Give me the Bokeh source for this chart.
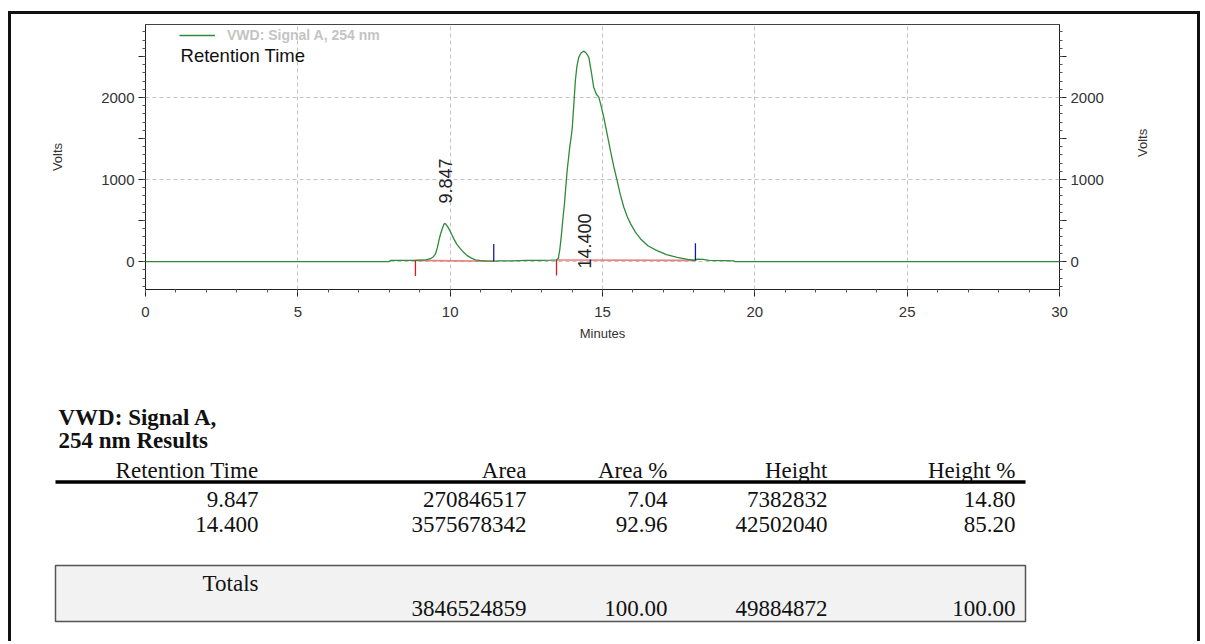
import math
from bokeh.plotting import figure
from bokeh.layouts import column
from bokeh.models import Range1d, FixedTicker, LinearAxis, Legend, LegendItem, Label
from bokeh.core.properties import value
from bokeh.embed import file_html
from bokeh.resources import INLINE

# ---------------- data ----------------
time_min = [0.0, 8.0, 8.05, 8.5, 8.86, 9.2, 9.35, 9.45, 9.52, 9.58, 9.63, 9.68, 9.74, 9.79, 9.82,
            9.86, 9.91, 9.96, 10.04, 10.12, 10.22, 10.34, 10.45, 10.56, 10.7, 10.83, 11.0, 11.2,
            11.43, 11.6, 12.0, 12.5, 13.0, 13.3, 13.49, 13.55, 13.6, 13.65, 13.7, 13.75, 13.84,
            13.92, 14.0, 14.06, 14.11, 14.16, 14.22, 14.3, 14.39, 14.47, 14.55, 14.63, 14.71, 14.8,
            14.88, 14.96, 15.04, 15.15, 15.26, 15.37, 15.48, 15.59, 15.7, 15.81, 15.92, 16.08,
            16.25, 16.5, 16.79, 17.1, 17.45, 17.8, 18.05, 18.1, 18.3, 18.5, 19.0, 19.3, 19.35, 30.0]
signal = [0, 0, 15, 15, 15, 22, 35, 60, 95, 170, 256, 330, 400, 450, 467,
          455, 430, 399, 340, 277, 210, 155, 110, 73, 42, 22, 12, 8,
          5, 8, 10, 14, 16, 18, 20, 40, 150, 320, 520, 700, 1110,
          1380, 1598, 1920, 2207, 2380, 2490, 2545, 2565, 2540, 2490, 2320, 2126, 2040,
          2004, 1890, 1760, 1560, 1354, 1160, 988, 810, 662, 550, 463, 360,
          276, 190, 134, 85, 52, 28, 15, 30, 28, 15, 12, 10, 0, 0]

peak_rt = [9.847, 14.400]
peak_start = [8.86, 13.49]
peak_start_level = [15, 20]
peak_end = [11.43, 18.05]
peak_end_level = [5, 15]

x_ticks = [0, 5, 10, 15, 20, 25, 30]
y_ticks = [0, 1000, 2000]

# results table
table_header = ["Retention Time", "Area", "Area %", "Height", "Height %"]
rt_values = [9.847, 14.400]
area_values = [270846517, 3575678342]
area_pct = [7.04, 92.96]
height_values = [7382832, 42502040]
height_pct = [14.80, 85.20]
total_area = 3846524859
total_area_pct = 100.00
total_height = 49884872
total_height_pct = 100.00

# ---------------- chart ----------------
SANS = "Liberation Sans"
SERIF = "Liberation Serif"

p = figure(width=1186, height=331, x_range=Range1d(0, 30), y_range=Range1d(-340, 2890),
           output_backend="svg", toolbar_location=None,
           min_border_left=134, min_border_right=138, min_border_top=10, min_border_bottom=56)
p.frame_align = False
p.outline_line_color = "#444444"
p.background_fill_color = "white"
p.border_fill_color = "white"

p.xgrid.ticker = FixedTicker(ticks=[t for t in x_ticks if 0 < t < 30])
p.ygrid.ticker = FixedTicker(ticks=y_ticks)
for g in (p.xgrid, p.ygrid):
    g.grid_line_color = "#c4c4c4"
    g.grid_line_dash = "4 3"
    g.grid_line_width = 1

y_major = [0, 500, 1000, 1500, 2000, 2500]
y_minor = list(range(-300, 2900, 100))
y_over = {500: "", 1500: "", 2500: ""}

p.xaxis.ticker = FixedTicker(ticks=x_ticks, minor_ticks=list(range(0, 31)))
p.xaxis.axis_label = "Minutes"
p.yaxis.ticker = FixedTicker(ticks=y_major, minor_ticks=y_minor)
p.yaxis.major_label_overrides = y_over
p.yaxis.axis_label = "Volts"

ra = LinearAxis(ticker=FixedTicker(ticks=y_major, minor_ticks=y_minor),
                major_label_overrides=y_over, axis_label="Volts",
                axis_label_orientation=math.pi / 2)
p.add_layout(ra, "right")

for ax in (p.xaxis[0], p.yaxis[0], ra):
    ax.axis_line_color = "#222222"
    ax.major_tick_line_color = "#222222"
    ax.minor_tick_line_color = "#555555"
    ax.major_tick_in = 0
    ax.major_tick_out = 7
    ax.minor_tick_in = 0
    ax.minor_tick_out = 3
    ax.major_label_text_font = SANS
    ax.major_label_text_font_size = "15px"
    ax.major_label_text_color = "#333333"
    ax.major_label_standoff = 4
    ax.axis_label_text_font = SANS
    ax.axis_label_text_font_size = "13px"
    ax.axis_label_text_font_style = "normal"
    ax.axis_label_text_color = "#333333"
p.yaxis[0].axis_label_standoff = 33
ra.axis_label_standoff = 36
p.xaxis[0].major_label_standoff = 10
p.xaxis[0].axis_label_standoff = 6

# integration baselines and markers
p.segment(x0=peak_start, y0=peak_start_level, x1=peak_end, y1=peak_end_level,
          line_color="#e86a6a", line_width=1.6, line_alpha=0.85)

r = p.line(time_min, signal, line_color="#2e8b3a", line_width=1.3)

p.segment(x0=peak_start, y0=peak_start_level, x1=peak_start,
          y1=[lv - 190 for lv in peak_start_level], line_color="#d62020", line_width=1.3)
p.segment(x0=peak_end, y0=peak_end_level, x1=peak_end,
          y1=[lv + 210 for lv in peak_end_level], line_color="#1a1aa0", line_width=1.3)

# peak labels
peak_label_y = [707, -85]
p.text(x=peak_rt, y=peak_label_y, text=[f"{v:.3f}" for v in peak_rt], angle=math.pi / 2,
       text_align="left", text_baseline="middle", text_font=value(SANS),
       text_font_size="18px", text_color="#222222")

legend = Legend(items=[LegendItem(label="VWD: Signal A, 254 nm", renderers=[r])],
                location=(34, 246), padding=0, margin=0, spacing=0,
                border_line_color=None, background_fill_alpha=0,
                glyph_width=36, glyph_height=14, label_height=14, label_standoff=12,
                label_text_font=SANS, label_text_font_size="14px",
                label_text_font_style="bold", label_text_color="#c4c4c4")
p.add_layout(legend)

p.add_layout(Label(x=1.15, y=2511, text="Retention Time", text_font=SANS,
                   text_font_size="18.5px", text_baseline="middle", text_color="#111111"))

# ---------------- table ----------------
t = figure(width=1186, height=296, x_range=Range1d(11, 1197), y_range=Range1d(641, 345),
           output_backend="svg", toolbar_location=None, min_border=0,
           min_border_left=0, min_border_right=0, min_border_top=0, min_border_bottom=0,
           x_axis_type=None, y_axis_type=None)
t.frame_align = False
t.outline_line_color = None
t.grid.visible = False

col_right = [258, 526, 667, 827, 1015]
tbl_left, tbl_right = 55, 1025
TXT = dict(text_font=value(SERIF), text_font_size="23px", text_baseline="middle",
           text_color="#111111")

t.text(x=[58, 58], y=[417, 439.5], text=["VWD: Signal A,", "254 nm Results"],
       text_font_style="bold", **TXT)

t.text(x=col_right, y=[469.5] * 5, text=table_header, text_align="right", **TXT)

t.segment(x0=[tbl_left], y0=[481.5], x1=[tbl_right], y1=[481.5], line_color="#000000",
          line_width=3.3)

row_y = [499, 524]
for i in range(len(rt_values)):
    cells = [f"{rt_values[i]:.3f}", f"{area_values[i]}", f"{area_pct[i]:.2f}",
             f"{height_values[i]}", f"{height_pct[i]:.2f}"]
    t.text(x=col_right, y=[row_y[i]] * 5, text=cells, text_align="right", **TXT)

t.quad(left=[tbl_left], right=[tbl_right], top=[565], bottom=[621],
       fill_color="#f2f2f2", line_color="#555555", line_width=1.5)

t.text(x=[col_right[0]], y=[583], text=["Totals"], text_align="right", **TXT)
t.text(x=col_right[1:], y=[608] * 4,
       text=[f"{total_area}", f"{total_area_pct:.2f}", f"{total_height}", f"{total_height_pct:.2f}"],
       text_align="right", **TXT)

layout = column(p, t, styles={"border-left": "3px solid #111111",
                              "border-right": "3px solid #111111",
                              "border-top": "3px solid #111111",
                              "margin-left": "8px",
                              "margin-top": "11px"})

open("out.html", "w").write(file_html(layout, INLINE))
